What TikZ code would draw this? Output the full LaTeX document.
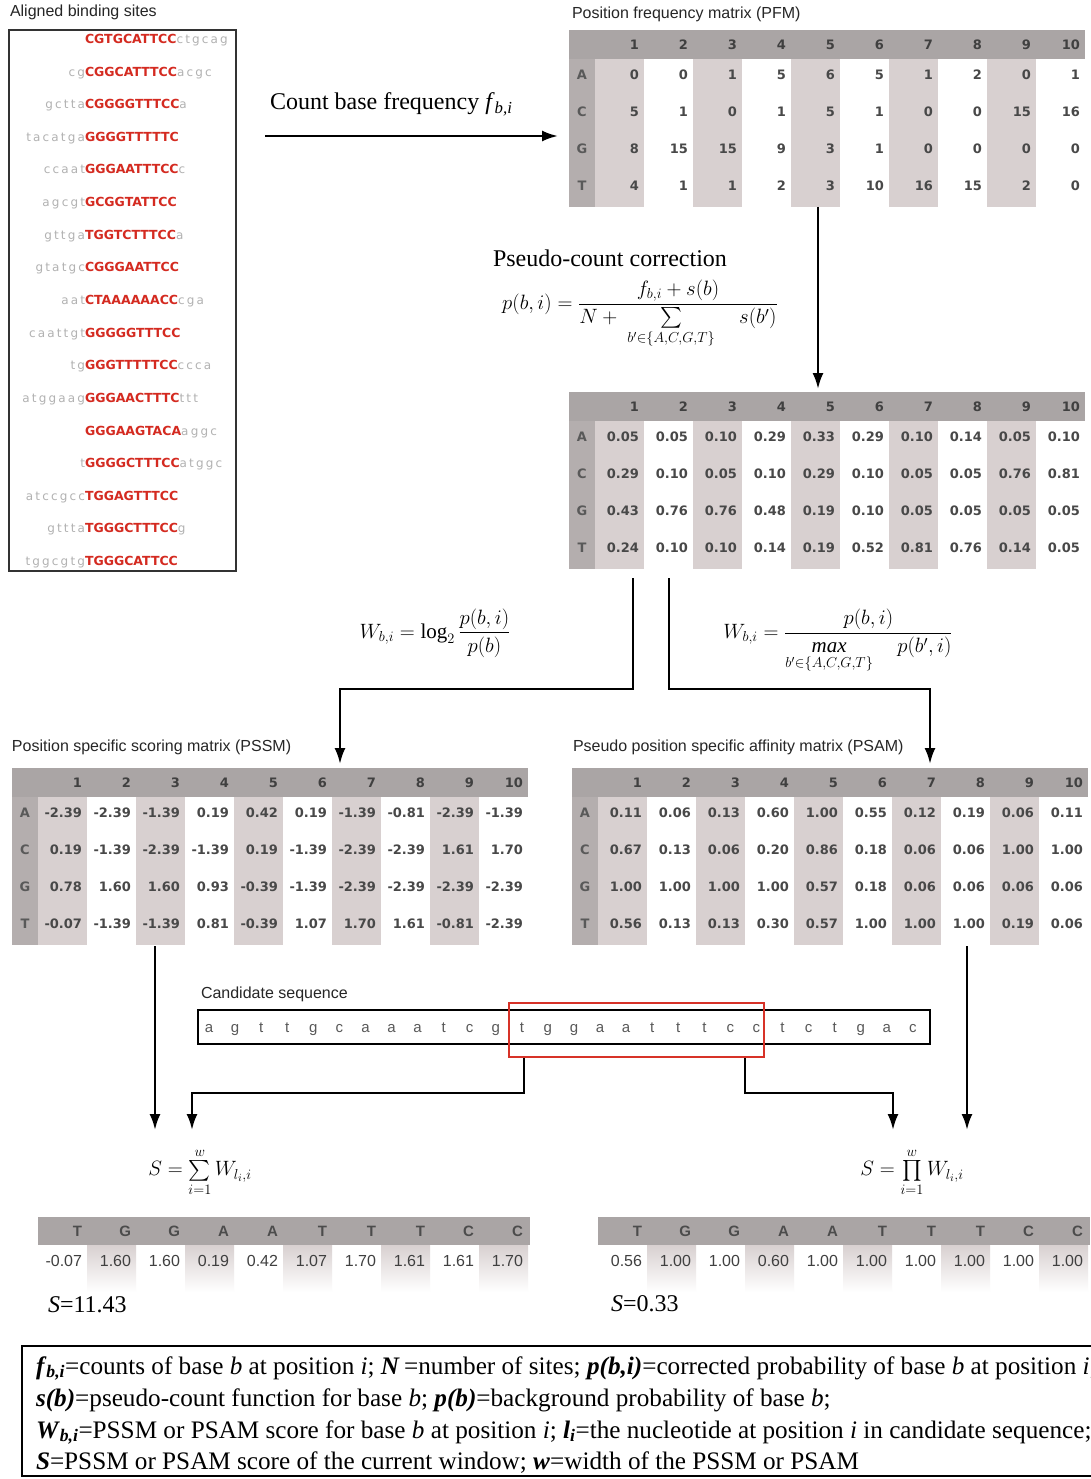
\documentclass[tikz,border=0pt]{standalone}
\usepackage{amsmath}
\usepackage{fontspec}
\setmainfont{Liberation Serif}
\newfontfamily\djv{DejaVu Sans}
\newfontfamily\flankfont[LetterSpace=18]{DejaVu Sans}
\newfontfamily\lsans{Liberation Sans}
\usetikzlibrary{arrows.meta}
\definecolor{hdrgray}{RGB}{170,165,165}
\definecolor{lblgray}{RGB}{180,174,174}
\definecolor{stripegray}{RGB}{216,208,208}
\definecolor{coreRed}{RGB}{212,42,32}
\definecolor{boxRed}{RGB}{215,50,40}
\definecolor{numgray}{RGB}{72,72,72}
\newcommand\bi[1]{\textbf{\textit{#1}}}

\tikzset{
 every node/.style={inner sep=0pt, outer sep=0pt},
 title/.style={font=\lsans\fontsize{16}{18}\selectfont, text=black!85, anchor=west},
 core/.style={font=\djv\bfseries\fontsize{12.5}{14}\selectfont, text=coreRed},
 flank/.style={font=\flankfont\fontsize{12}{14}\selectfont, text=black!30},
 hdrtxt/.style={font=\djv\bfseries\fontsize{13}{15}\selectfont, text=black!75, anchor=east},
 lbltxt/.style={font=\djv\bfseries\fontsize{13}{15}\selectfont, text=black!65},
 valtxt/.style={font=\djv\bfseries\fontsize{13}{15}\selectfont, text=numgray, anchor=east},
 restxt/.style={font=\lsans\fontsize{16}{18}\selectfont, text=black!75, anchor=east},
 reshdr/.style={font=\lsans\bfseries\fontsize{15}{17}\selectfont, text=black!70, anchor=east},
 seqtxt/.style={font=\lsans\fontsize{15}{17}\selectfont, text=black!65, anchor=base},
 serif/.style={font=\fontsize{24}{28}\selectfont, anchor=base west},
 formula/.style={font=\fontsize{21}{25}\selectfont},
 legend/.style={font=\fontsize{25.2}{29}\selectfont, anchor=base west},
 flow/.style={line width=2.4pt, -{Latex[length=16pt,width=11pt]}},
 link/.style={line width=2.4pt},
}

\newcommand\drawmat[4]{%
 \begin{scope}[shift={(#2,#3)}]
  \fill[lblgray] (0,0) rectangle (26,177);
  \foreach \c in {1,3,5,7,9} \fill[stripegray] ({26+(\c-1)*49},29) rectangle ({26+\c*49},177);
  \fill[hdrgray] (0,0) rectangle (516,29);
  \foreach \c in {1,...,10} \node[hdrtxt] (#1h\c) at ({26+\c*49-5},14.5) {\c};
  \foreach \r/\vals [count=\ri] in {#4} {
    \node[lbltxt] (#1l\ri) at (13,{8+\ri*37}) {\r};
    \foreach \v [count=\ci] in \vals
      \node[valtxt] (#1v\ri-\ci) at ({26+\ci*49-5},{8+\ri*37}) {\v};
  }
 \end{scope}
}

\newcommand\restab[5]{%
 \begin{scope}[shift={(#2,#3)}]
  \foreach \c in {2,4,6,8,10} \shade[top color=stripegray, bottom color=white] ({(\c-1)*49},28) rectangle ({\c*49},75);
  \fill[hdrgray] (0,0) rectangle (492,28);
  \foreach \t [count=\c] in {#4} \node[reshdr] (#1h\c) at ({\c*49-5},14) {\t};
  \foreach \v [count=\c] in {#5} \node[restxt] (#1v\c) at ({\c*49-5},44) {\v};
 \end{scope}
}

\begin{document}
\begin{tikzpicture}[x=1pt,y=-1pt]
\useasboundingbox (0,0) rectangle (1090,1479);
\fill[white] (0,0) rectangle (1090,1479);

% ---------- aligned binding sites ----------
\node[title] (tAligned) at (10,12) {Aligned binding sites};
\draw[line width=1.5pt, black!80] (9,30) rectangle (236,571);
\foreach \l/\c/\r [count=\i] in {
 /CGTGCATTCC/ctgcag,
 cg/CGGCATTTCC/acgc,
 gctta/CGGGGTTTCC/a,
 tacatga/GGGGTTTTTC/,
 ccaat/GGGAATTTCC/c,
 agcgt/GCGGTATTCC/,
 gttga/TGGTCTTTCC/a,
 gtatgc/CGGGAATTCC/,
 aat/CTAAAAAACC/cga,
 caattgt/GGGGGTTTCC/,
 tg/GGGTTTTTCC/ccca,
 atggaag/GGGAACTTTC/ttt,
 /GGGAAGTACA/aggc,
 t/GGGGCTTTCC/atggc,
 atccgcc/TGGAGTTTCC/,
 gttta/TGGGCTTTCC/g,
 tggcgtg/TGGGCATTCC/}
{
 \pgfmathsetmacro\yy{39+(\i-1)*32.625+4.5}
 \node[core, anchor=base west] (core\i) at (85,\yy) {\c};
 \node[flank, anchor=base east] (lf\i) at (core\i.base west) {\l};
 \node[flank, anchor=base west] (rf\i) at (core\i.base east) {\r};
}

% ---------- PFM ----------
\node[title] (tPFM) at (572,14) {Position frequency matrix (PFM)};
\drawmat{pfm}{569}{30}{A/{0,0,1,5,6,5,1,2,0,1},C/{5,1,0,1,5,1,0,0,15,16},G/{8,15,15,9,3,1,0,0,0,0},T/{4,1,1,2,3,10,16,15,2,0}}

% count arrow
\node[serif] (tCount) at (270,110) {Count base frequency \textit{f}\textsubscript{\textit{b,i}}};
\coordinate (cntA) at (265,136);
\coordinate (cntB) at (558,136);
\draw[flow] (cntA) -- (cntB);

% pseudo count
\node[serif] (tPseudo) at (493,266) {Pseudo-count correction};
\node[formula] (pform) at (640,314) {$p(b,i)=\dfrac{f_{b,i}+s(b)}{N+\ \sum\limits_{b'\in\{A,C,G,T\}}\quad s(b')}$};
\coordinate (pfmS) at (818,207);
\coordinate (pmN) at (818,389);
\draw[flow] (pfmS) -- (pmN);

% ---------- probability matrix ----------
\drawmat{pm}{569}{392}{A/{0.05,0.05,0.10,0.29,0.33,0.29,0.10,0.14,0.05,0.10},C/{0.29,0.10,0.05,0.10,0.29,0.10,0.05,0.05,0.76,0.81},G/{0.43,0.76,0.76,0.48,0.19,0.10,0.05,0.05,0.05,0.05},T/{0.24,0.10,0.10,0.14,0.19,0.52,0.81,0.76,0.14,0.05}}

% split arrows
\node[formula] (wl) at (435,633) {$W_{b,i}=\log_2\dfrac{p(b,i)}{p(b)}$};
\node[formula] (wr) at (838,641) {$W_{b,i}=\dfrac{p(b,i)}{\mathop{\mathit{max}}\limits_{b'\in\{A,C,G,T\}}\quad p(b',i)}$};
\coordinate (pmSL) at (633,578);
\coordinate (elL1) at (633,689);
\coordinate (elL2) at (340,689);
\coordinate (pssmN) at (340,764);
\coordinate (pmSR) at (669,578);
\coordinate (elR1) at (669,689);
\coordinate (elR2) at (930,689);
\coordinate (psamN) at (930,764);
\draw[flow] (pmSL) -- (elL1) -- (elL2) -- (pssmN);
\draw[flow] (pmSR) -- (elR1) -- (elR2) -- (psamN);

% ---------- PSSM / PSAM ----------
\node[title] (tPSSM) at (12,747) {Position specific scoring matrix (PSSM)};
\drawmat{pssm}{12}{768}{A/{-2.39,-2.39,-1.39,0.19,0.42,0.19,-1.39,-0.81,-2.39,-1.39},C/{0.19,-1.39,-2.39,-1.39,0.19,-1.39,-2.39,-2.39,1.61,1.70},G/{0.78,1.60,1.60,0.93,-0.39,-1.39,-2.39,-2.39,-2.39,-2.39},T/{-0.07,-1.39,-1.39,0.81,-0.39,1.07,1.70,1.61,-0.81,-2.39}}

\node[title] (tPSAM) at (573,747) {Pseudo position specific affinity matrix (PSAM)};
\drawmat{psam}{572}{768}{A/{0.11,0.06,0.13,0.60,1.00,0.55,0.12,0.19,0.06,0.11},C/{0.67,0.13,0.06,0.20,0.86,0.18,0.06,0.06,1.00,1.00},G/{1.00,1.00,1.00,1.00,0.57,0.18,0.06,0.06,0.06,0.06},T/{0.56,0.13,0.13,0.30,0.57,1.00,1.00,1.00,0.19,0.06}}

% ---------- candidate sequence ----------
\node[title] (tCand) at (201,994) {Candidate sequence};
\draw[line width=2.8pt] (198,1010) rectangle (930,1044);
\foreach \s [count=\i] in {a,g,t,t,g,c,a,a,a,t,c,g,t,g,g,a,a,t,t,t,c,c,t,c,t,g,a,c}
  \node[seqtxt] (s\i) at ({209+(\i-1)*26.07},1032) {\s};
\draw[boxRed, line width=2.5pt] (509,1003) rectangle (764,1057);

% arrows to scores
\coordinate (pssmS) at (155,946);
\coordinate (sumA) at (155,1130);
\coordinate (redL) at (524,1058);
\coordinate (elS1) at (524,1093);
\coordinate (elS2) at (192,1093);
\coordinate (sumB) at (192,1130);
\coordinate (redR) at (745,1058);
\coordinate (elP1) at (745,1093);
\coordinate (elP2) at (893,1093);
\coordinate (prodB) at (893,1130);
\coordinate (psamS) at (967,946);
\coordinate (prodA) at (967,1130);
\draw[flow] (pssmS) -- (sumA);
\draw[flow] (redL) -- (elS1) -- (elS2) -- (sumB);
\draw[flow] (redR) -- (elP1) -- (elP2) -- (prodB);
\draw[flow] (psamS) -- (prodA);

\node[formula] (sumf) at (200,1172) {$S=\sum\limits_{i=1}^{w}W_{l_i,i}$};
\node[formula] (prodf) at (912,1172) {$S=\prod\limits_{i=1}^{w}W_{l_i,i}$};

% ---------- result tables ----------
\restab{rl}{38}{1217}{T,G,G,A,A,T,T,T,C,C}{-0.07,1.60,1.60,0.19,0.42,1.07,1.70,1.61,1.61,1.70}
\restab{rr}{598}{1217}{T,G,G,A,A,T,T,T,C,C}{0.56,1.00,1.00,0.60,1.00,1.00,1.00,1.00,1.00,1.00}
\node[serif] (resL) at (48,1312) {\textit{S}=11.43};
\node[serif] (resR) at (611,1311) {\textit{S}=0.33};

% ---------- legend ----------
\draw[line width=2.5pt] (22,1346) rectangle (1110,1476);
\node[legend] (lg1) at (36,1374) {\bi{f}\textsubscript{\bi{b,i}}=counts of base \textit{b} at position \textit{i}; \bi{N}\,=number of sites; \bi{p(b,i)}=corrected probability of base \textit{b} at position \textit{i};};
\node[legend] (lg2) at (36,1406) {\bi{s(b)}=pseudo-count function for base \textit{b}; \bi{p(b)}=background probability of base \textit{b};};
\node[legend] (lg3) at (36,1438) {\bi{W}\textsubscript{\bi{b,i}}=PSSM or PSAM score for base \textit{b} at position \textit{i}; \bi{l}\textsubscript{\bi{i}}=the nucleotide at position \textit{i} in candidate sequence;};
\node[legend] (lg4) at (36,1469) {\bi{S}=PSSM or PSAM score of the current window; \bi{w}=width of the PSSM or PSAM};
\end{tikzpicture}
\end{document}
